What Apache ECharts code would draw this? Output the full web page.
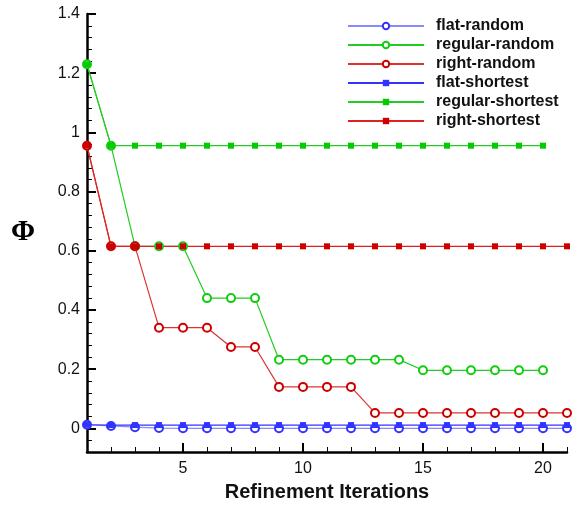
<!DOCTYPE html>
<html>
<head>
    <meta charset="utf-8">
    <title>Refinement Iterations</title>
    <script src="https://cdn.jsdelivr.net/npm/echarts@6/dist/echarts.min.js"></script>
    <style>
        body { margin: 0; background: #fff; }
        #chart { width: 575px; height: 506px; }
    </style>
</head>
<body>
<div id="chart"></div>
<script>
    // iterations 1..21
    var iterations = [1,2,3,4,5,6,7,8,9,10,11,12,13,14,15,16,17,18,19,20,21];

    var flatRandom     = [0.012,0.008,0.004,0.001,0,0,0,0,0,0,0,0,0,0,0,0,0,0,0,0,0];
    var regularRandom  = [1.23,0.955,0.615,0.615,0.615,0.44,0.44,0.44,0.232,0.232,0.232,0.232,0.232,0.232,0.196,0.196,0.196,0.196,0.196,0.196];
    var rightRandom    = [0.955,0.615,0.615,0.34,0.34,0.34,0.275,0.275,0.14,0.14,0.14,0.14,0.052,0.052,0.052,0.052,0.052,0.052,0.052,0.052,0.052];
    var flatShortest   = [0.012,0.011,0.011,0.011,0.011,0.011,0.011,0.011,0.011,0.011,0.011,0.011,0.011,0.011,0.011,0.011,0.011,0.011,0.011,0.011,0.011];
    var regularShortest= [1.23,0.955,0.955,0.955,0.955,0.955,0.955,0.955,0.955,0.955,0.955,0.955,0.955,0.955,0.955,0.955,0.955,0.955,0.955,0.955];
    var rightShortest  = [0.955,0.615,0.615,0.615,0.615,0.615,0.615,0.615,0.615,0.615,0.615,0.615,0.615,0.615,0.615,0.615,0.615,0.615,0.615,0.615,0.615];

    var xLabels = [5,10,15,20];
    var yLabels = [0,0.2,0.4,0.6,0.8,1,1.2,1.4];

    function pairs(vals){
        return vals.map(function(v,i){ return [iterations[i], v]; });
    }

    function mkSeries(name, vals, symbol, lineColor, markColor){
        var hollow = symbol === 'emptyCircle';
        return {
            name: name,
            type: 'line',
            data: pairs(vals),
            symbol: symbol,
            symbolSize: hollow ? 8 : 6,
            showAllSymbol: true,
            lineStyle: { color: lineColor, width: 1.2 },
            itemStyle: hollow
                ? { color: markColor, borderColor: markColor, borderWidth: 1.6 }
                : { color: markColor, borderWidth: 0 },
            emphasis: { disabled: true },
            animation: false
        };
    }

    var myChart = echarts.init(document.getElementById('chart'));
    var labelFont = { fontFamily: 'Liberation Sans, Arial, sans-serif', fontSize: 16, color: '#111' };

    myChart.setOption({
        backgroundColor: '#fff',
        animation: false,
        grid: { left: 87, right: 8, top: 14, bottom: 54, outerBoundsMode: 'none', containLabel: false },
        legend: {
            orient: 'vertical',
            left: 347,
            top: 18,
            padding: 0,
            itemWidth: 76,
            itemHeight: 8,
            itemGap: 3,
            textStyle: { fontFamily: 'Liberation Sans, Arial, sans-serif', fontWeight: 'bold', fontSize: 16, color: '#111', padding: [0,0,0,7] },
            data: ['flat-random','regular-random','right-random','flat-shortest','regular-shortest','right-shortest']
        },
        xAxis: [{
            type: 'value', min: 1, max: 21, interval: 1,
            name: 'Refinement Iterations', nameLocation: 'middle', nameGap: 30,
            nameTextStyle: { fontFamily: 'Liberation Sans, Arial, sans-serif', fontWeight: 'bold', fontSize: 20, color: '#111' },
            axisLine: { show: true, onZero: false, lineStyle: { color: '#000', width: 2.5 } },
            axisTick: { show: true, inside: true, length: 5, lineStyle: { color: '#000', width: 1 } },
            axisLabel: Object.assign({ customValues: xLabels, margin: 9 }, labelFont),
            splitLine: { show: false }
        }, {
            type: 'value', min: 1, max: 21, position: 'bottom', gridIndex: 0,
            axisLine: { show: false, onZero: false },
            axisTick: { show: true, inside: true, length: 9, customValues: xLabels, lineStyle: { color: '#000', width: 2 } },
            axisLabel: { show: false },
            splitLine: { show: false }
        }],
        yAxis: [{
            type: 'value', min: -0.08, max: 1.4, interval: 0.04,
            name: 'Φ', nameLocation: 'middle', nameRotate: 0, nameGap: 52,
            nameTextStyle: { fontFamily: 'Liberation Serif, Times New Roman, serif', fontWeight: 'bold', fontSize: 29, color: '#000' },
            axisLine: { show: true, onZero: false, lineStyle: { color: '#000', width: 2.5 } },
            axisTick: { show: true, inside: true, length: 5, lineStyle: { color: '#000', width: 1 } },
            axisLabel: Object.assign({ customValues: yLabels, margin: 7 }, labelFont),
            splitLine: { show: false }
        }, {
            type: 'value', min: -0.08, max: 1.4, position: 'left', gridIndex: 0,
            axisLine: { show: false, onZero: false },
            axisTick: { show: true, inside: true, length: 9, customValues: yLabels, lineStyle: { color: '#000', width: 2 } },
            axisLabel: { show: false },
            splitLine: { show: false }
        }],
        series: [
            mkSeries('flat-random', flatRandom, 'emptyCircle', '#8888ff', '#3333ff'),
            mkSeries('regular-random', regularRandom, 'emptyCircle', '#22cc22', '#11cc11'),
            mkSeries('right-random', rightRandom, 'emptyCircle', '#dd3333', '#cc0000'),
            mkSeries('flat-shortest', flatShortest, 'rect', '#3333ff', '#3333ff'),
            mkSeries('regular-shortest', regularShortest, 'rect', '#22cc22', '#00cc00'),
            mkSeries('right-shortest', rightShortest, 'rect', '#dd2222', '#cc0000')
        ]
    });
</script>
</body>
</html>
